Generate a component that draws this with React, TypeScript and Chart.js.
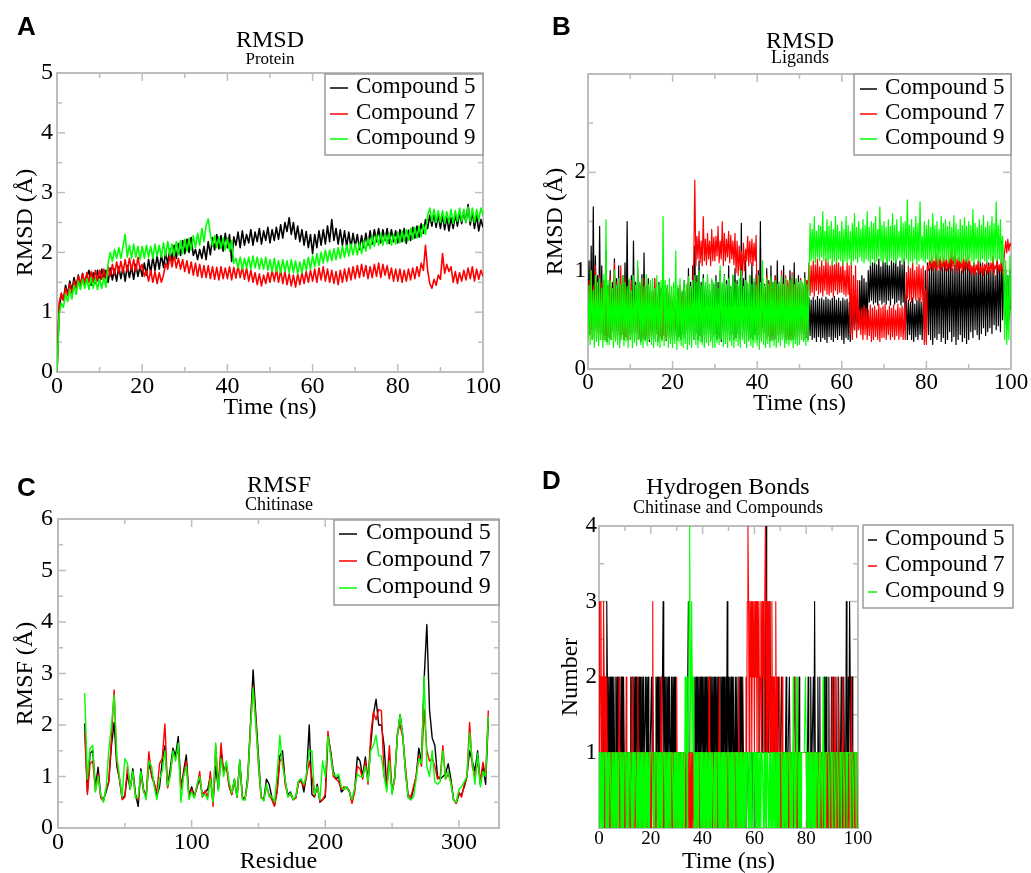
import React, { useEffect, useRef } from 'react';
import { Chart, registerables } from 'chart.js';

Chart.register(...registerables);

const PAGE_W = 1031;
const PAGE_H = 873;
const SERIF = "'Liberation Serif', 'Times New Roman', serif";
const SANS = "'Liberation Sans', Arial, sans-serif";

const SERIES_LABELS = ['Compound 5', 'Compound 7', 'Compound 9'];
const SERIES_COLORS = ['#000000', '#ff0000', '#00ff00'];

// ---------- Panel A : RMSD Protein (time 0..100 ns, every 0.5 ns) ----------
const A_TIME_STEP = 0.5;
const A_C5 = [
  0, 1.05, 1.30, 1.20, 1.45, 1.30, 1.52, 1.36, 1.58, 1.42,
  1.62, 1.44, 1.65, 1.47, 1.60, 1.70, 1.45, 1.66, 1.48, 1.70,
  1.52, 1.72, 1.55, 1.70, 1.50, 1.74, 1.54, 1.72, 1.52, 1.76,
  1.56, 1.75, 1.52, 1.78, 1.58, 1.76, 1.55, 1.80, 1.60, 1.77,
  1.60, 1.82, 1.62, 1.88, 1.66, 1.92, 1.70, 1.94, 1.72, 1.96,
  1.75, 2.00, 1.80, 2.06, 1.86, 2.12, 1.90, 2.15, 1.95, 2.20,
  1.98, 2.22, 2.00, 2.25, 1.95, 2.05, 1.88, 2.05, 1.90, 2.10,
  1.88, 2.18, 1.96, 2.25, 2.04, 2.30, 2.06, 2.28, 2.02, 2.32,
  2.08, 2.30, 1.85, 2.26, 2.12, 2.34, 2.08, 2.36, 2.12, 2.30,
  2.16, 2.38, 2.12, 2.34, 2.18, 2.40, 2.14, 2.36, 2.20, 2.42,
  2.16, 2.38, 2.20, 2.42, 2.22, 2.46, 2.24, 2.50, 2.35, 2.58,
  2.30, 2.50, 2.22, 2.44, 2.18, 2.38, 2.12, 2.35, 2.08, 2.30,
  1.98, 2.30, 2.08, 2.36, 2.12, 2.38, 2.14, 2.44, 2.18, 2.55,
  2.20, 2.40, 2.14, 2.38, 2.12, 2.36, 2.10, 2.34, 2.08, 2.32,
  2.10, 2.30, 2.05, 2.28, 2.08, 2.32, 2.12, 2.36, 2.14, 2.38,
  2.18, 2.40, 2.16, 2.38, 2.20, 2.40, 2.15, 2.38, 2.18, 2.36,
  2.16, 2.38, 2.18, 2.40, 2.15, 2.37, 2.20, 2.42, 2.24, 2.44,
  2.26, 2.48, 2.32, 2.55, 2.40, 2.62, 2.44, 2.66, 2.42, 2.64,
  2.40, 2.62, 2.38, 2.60, 2.36, 2.58, 2.40, 2.64, 2.44, 2.66,
  2.48, 2.70, 2.50, 2.80, 2.46, 2.68, 2.40, 2.62, 2.36, 2.55,
  2.42,
];
const A_C7 = [
  0, 1.15, 1.32, 1.20, 1.40, 1.28, 1.48, 1.32, 1.52, 1.40,
  1.60, 1.46, 1.64, 1.48, 1.66, 1.50, 1.68, 1.50, 1.70, 1.52,
  1.70, 1.55, 1.72, 1.56, 1.76, 1.60, 1.80, 1.62, 1.84, 1.66,
  1.85, 1.66, 1.88, 1.68, 1.90, 1.70, 1.88, 1.68, 1.92, 1.72,
  1.80, 1.60, 1.70, 1.52, 1.70, 1.50, 1.68, 1.48, 1.66, 1.50,
  1.62, 1.82, 1.72, 1.95, 1.76, 1.96, 1.74, 1.90, 1.72, 1.88,
  1.68, 1.86, 1.65, 1.84, 1.62, 1.82, 1.60, 1.80, 1.58, 1.78,
  1.58, 1.78, 1.56, 1.76, 1.55, 1.75, 1.54, 1.76, 1.56, 1.74,
  1.56, 1.76, 1.54, 1.75, 1.57, 1.78, 1.58, 1.76, 1.55, 1.74,
  1.52, 1.70, 1.50, 1.66, 1.46, 1.64, 1.44, 1.62, 1.48, 1.66,
  1.50, 1.70, 1.52, 1.72, 1.50, 1.70, 1.48, 1.68, 1.46, 1.64,
  1.44, 1.62, 1.42, 1.64, 1.46, 1.66, 1.48, 1.68, 1.50, 1.70,
  1.52, 1.72, 1.50, 1.74, 1.54, 1.76, 1.52, 1.72, 1.50, 1.70,
  1.48, 1.68, 1.46, 1.70, 1.50, 1.72, 1.52, 1.74, 1.54, 1.76,
  1.56, 1.78, 1.58, 1.80, 1.60, 1.78, 1.56, 1.76, 1.58, 1.80,
  1.60, 1.82, 1.58, 1.80, 1.62, 1.78, 1.56, 1.74, 1.52, 1.72,
  1.52, 1.72, 1.50, 1.70, 1.52, 1.72, 1.54, 1.74, 1.56, 1.76,
  1.60, 1.82, 1.70, 2.12, 1.70, 1.48, 1.40, 1.55, 1.45, 1.62,
  1.55, 1.98, 1.65, 1.80, 1.68, 1.76, 1.50, 1.68, 1.48, 1.66,
  1.52, 1.70, 1.54, 1.74, 1.56, 1.76, 1.52, 1.72, 1.55, 1.70,
  1.60,
];
const A_C9 = [
  0, 0.95, 1.15, 1.08, 1.30, 1.18, 1.38, 1.22, 1.45, 1.30,
  1.52, 1.38, 1.55, 1.40, 1.56, 1.38, 1.58, 1.40, 1.56, 1.38,
  1.56, 1.40, 1.58, 1.42, 1.82, 2.00, 1.85, 2.05, 1.90, 2.08,
  1.90, 2.10, 2.30, 1.92, 2.12, 1.90, 2.14, 1.92, 2.10, 1.88,
  2.10, 1.90, 2.12, 1.92, 2.10, 1.90, 2.14, 1.94, 2.12, 1.92,
  2.16, 1.94, 2.18, 1.96, 2.14, 1.94, 2.18, 1.96, 2.20, 1.98,
  2.22, 2.02, 2.24, 2.04, 2.28, 2.08, 2.32, 2.12, 2.40, 2.18,
  2.45, 2.56, 2.30, 2.10, 2.28, 2.08, 2.26, 2.06, 2.24, 2.04,
  2.24, 2.02, 2.20, 1.82, 1.90, 1.74, 1.92, 1.72, 1.90, 1.74,
  1.92, 1.72, 1.94, 1.74, 1.92, 1.72, 1.90, 1.72, 1.92, 1.70,
  1.88, 1.68, 1.90, 1.68, 1.86, 1.66, 1.88, 1.68, 1.86, 1.66,
  1.88, 1.66, 1.86, 1.64, 1.84, 1.66, 1.88, 1.70, 1.92, 1.72,
  1.94, 1.76, 1.98, 1.78, 2.00, 1.82, 2.04, 1.84, 2.04, 1.86,
  2.06, 1.88, 2.08, 1.90, 2.10, 1.92, 2.12, 1.94, 2.14, 1.96,
  2.14, 1.96, 2.16, 1.98, 2.20, 2.02, 2.24, 2.06, 2.28, 2.10,
  2.30, 2.12, 2.32, 2.12, 2.30, 2.14, 2.32, 2.12, 2.30, 2.14,
  2.34, 2.16, 2.36, 2.18, 2.38, 2.20, 2.40, 2.22, 2.42, 2.24,
  2.44, 2.26, 2.46, 2.30, 2.62, 2.74, 2.52, 2.72, 2.50, 2.70,
  2.50, 2.70, 2.48, 2.68, 2.50, 2.72, 2.48, 2.70, 2.52, 2.74,
  2.52, 2.72, 2.50, 2.76, 2.52, 2.74, 2.50, 2.72, 2.54, 2.74,
  2.62,
];

// ---------- Panel B : RMSD Ligands (time 0..100 ns, every 0.25 ns) ----------
const B_TIME_STEP = 0.25;
const B_C5 = [
  0.45, 1.10, 0.35, 1.25, 0.40, 1.65, 0.32, 1.15, 0.38, 0.95, 0.30, 1.45, 0.36, 1.05, 0.30, 0.90, 0.34, 1.20, 0.28, 0.85,
  0.32, 1.00, 0.30, 0.88, 0.38, 1.12, 0.30, 0.92, 0.34, 1.05, 0.28, 0.86, 0.35, 0.95, 0.30, 1.08, 0.33, 1.50, 0.30, 0.90,
  0.35, 0.95, 0.30, 1.30, 0.36, 0.88, 0.30, 1.02, 0.32, 0.85, 0.28, 0.96, 0.34, 1.18, 0.30, 0.84, 0.33, 0.92, 0.28, 0.86,
  0.32, 0.80, 0.30, 0.92, 0.35, 0.78, 0.28, 0.88, 0.33, 0.82, 0.30, 0.95, 0.34, 0.76, 0.29, 0.85, 0.32, 0.80, 0.30, 0.72,
  0.30, 0.75, 0.34, 0.70, 0.30, 0.82, 0.33, 0.68, 0.30, 0.78, 0.35, 0.90, 0.31, 0.80, 0.36, 1.02, 0.30, 0.88, 0.34, 1.05,
  0.30, 1.25, 0.36, 0.95, 0.30, 1.10, 0.34, 0.88, 0.28, 0.96, 0.33, 0.85, 0.30, 0.92, 0.35, 0.80, 0.30, 0.90, 0.33, 0.86,
  0.35, 0.95, 0.30, 0.88, 0.32, 1.00, 0.28, 0.86, 0.34, 0.96, 0.30, 0.90, 0.33, 1.05, 0.30, 0.84, 0.35, 0.95, 0.30, 1.02,
  0.32, 0.90, 0.36, 0.84, 0.30, 1.48, 0.33, 0.92, 0.28, 1.10, 0.34, 0.86, 0.30, 0.95, 0.32, 1.08, 0.30, 0.88, 0.35, 0.96,
  0.30, 1.00, 0.34, 1.50, 0.30, 0.92, 0.35, 0.86, 0.30, 1.02, 0.33, 0.90, 0.29, 1.05, 0.34, 0.88, 0.30, 0.95, 0.32, 1.10,
  0.34, 0.88, 0.30, 0.96, 0.32, 1.05, 0.28, 0.90, 0.33, 0.86, 0.30, 1.00, 0.34, 0.92, 0.30, 1.08, 0.33, 0.90, 0.30, 0.95,
  0.30, 0.92, 0.35, 0.86, 0.30, 0.98, 0.32, 0.90, 0.30, 0.72, 0.34, 0.70, 0.30, 0.73, 0.32, 0.70, 0.28, 0.74, 0.33, 0.71,
  0.28, 0.72, 0.32, 0.70, 0.30, 0.73, 0.27, 0.71, 0.33, 0.70, 0.30, 0.72, 0.28, 0.74, 0.32, 0.70, 0.30, 0.72, 0.34, 0.69,
  0.30, 0.72, 0.26, 0.70, 0.32, 0.71, 0.30, 0.68, 0.28, 0.72, 0.35, 0.66, 0.40, 0.70, 0.38, 0.65, 0.42, 0.90, 0.45, 0.95,
  0.40, 0.92, 0.45, 0.88, 0.42, 1.00, 0.68, 1.05, 0.70, 1.08, 0.66, 1.10, 0.68, 1.06, 0.65, 1.12, 0.70, 1.04, 0.66, 1.10,
  0.68, 1.08, 0.66, 1.12, 0.70, 1.05, 0.65, 1.10, 0.72, 1.08, 0.66, 1.12, 0.68, 1.04, 0.70, 1.10, 0.65, 1.06, 0.68, 1.12,
  0.40, 0.75, 0.30, 0.70, 0.35, 0.68, 0.30, 0.72, 0.28, 0.66, 0.33, 0.70, 0.30, 0.72, 0.35, 0.68, 0.30, 0.70, 0.40, 1.00,
  0.28, 1.08, 0.35, 1.02, 0.30, 1.10, 0.25, 1.05, 0.32, 1.08, 0.30, 1.00, 0.36, 1.10, 0.28, 1.04, 0.32, 1.08, 0.26, 1.02,
  0.30, 1.06, 0.38, 1.10, 0.28, 1.02, 0.33, 1.08, 0.25, 1.04, 0.30, 1.10, 0.35, 1.00, 0.28, 1.08, 0.32, 1.05, 0.26, 1.10,
  0.30, 1.06, 0.38, 1.00, 0.32, 1.08, 0.40, 0.98, 0.35, 1.05, 0.30, 1.10, 0.36, 1.02, 0.42, 1.06, 0.34, 1.00, 0.38, 1.08,
  0.42, 1.00, 0.36, 1.05, 0.45, 0.95, 0.40, 1.10, 0.44, 1.02, 0.38, 1.30, 0.50, 1.05, 0.45, 1.00, 0.40, 0.95, 0.50, 1.00,
  0.60,
];
const B_C7 = [
  0.55, 0.90, 0.35, 1.00, 0.30, 0.85, 0.38, 1.05, 0.32, 0.80, 0.35, 0.95, 0.30, 0.88, 0.36, 0.82, 0.30, 0.92, 0.34, 0.85,
  0.35, 0.95, 0.30, 0.78, 0.36, 1.08, 0.30, 0.88, 0.34, 0.82, 0.30, 1.05, 0.35, 0.86, 0.30, 0.92, 0.33, 0.80, 0.30, 0.88,
  0.30, 0.90, 0.35, 0.75, 0.31, 0.85, 0.37, 0.78, 0.30, 0.88, 0.34, 0.80, 0.30, 0.92, 0.35, 0.76, 0.30, 0.85, 0.33, 0.78,
  0.34, 0.80, 0.30, 0.92, 0.35, 0.72, 0.30, 0.80, 0.33, 0.75, 0.30, 0.84, 0.35, 0.78, 0.30, 0.82, 0.34, 0.76, 0.30, 0.80,
  0.45, 0.70, 0.38, 0.65, 0.42, 0.72, 0.40, 0.85, 0.48, 0.75, 0.45, 0.80, 0.40, 0.72, 0.46, 0.88, 0.42, 0.76, 0.48, 0.82,
  1.10, 1.92, 1.05, 1.35, 1.12, 1.40, 1.08, 1.30, 1.05, 1.55, 1.10, 1.32, 1.06, 1.38, 1.12, 1.30, 1.05, 1.42, 1.10, 1.34,
  1.10, 1.35, 1.15, 1.45, 1.08, 1.30, 1.12, 1.50, 1.05, 1.38, 1.10, 1.32, 1.14, 1.40, 1.08, 1.36, 1.12, 1.30, 1.06, 1.38,
  0.98, 1.30, 0.95, 1.25, 1.00, 1.20, 0.96, 1.28, 1.00, 1.22, 1.10, 1.35, 1.05, 1.30, 1.08, 1.32, 1.05, 1.28, 1.10, 1.36,
  0.40, 0.95, 0.35, 0.85, 0.32, 0.92, 0.38, 0.80, 0.30, 0.95, 0.35, 0.88, 0.32, 0.90, 0.30, 0.82, 0.36, 0.94, 0.30, 0.86,
  0.35, 0.88, 0.30, 1.00, 0.36, 0.85, 0.32, 0.95, 0.30, 0.90, 0.34, 0.86, 0.30, 0.98, 0.35, 0.84, 0.30, 0.92, 0.33, 0.88,
  0.34, 0.92, 0.30, 0.85, 0.35, 0.78, 0.32, 0.90, 0.80, 1.08, 0.75, 1.05, 0.78, 1.10, 0.74, 1.06, 0.80, 1.12, 0.76, 1.04,
  0.78, 1.10, 0.74, 1.05, 0.80, 1.12, 0.76, 1.08, 0.75, 1.05, 0.78, 1.10, 0.74, 1.06, 0.80, 1.12, 0.76, 1.08, 0.78, 1.04,
  0.78, 1.10, 0.76, 1.00, 0.74, 1.08, 0.76, 1.05, 0.35, 1.10, 0.30, 0.95, 0.40, 1.05, 0.32, 0.90, 0.40, 0.60, 0.35, 0.62,
  0.30, 0.65, 0.35, 0.62, 0.30, 0.60, 0.34, 0.65, 0.28, 0.62, 0.30, 0.64, 0.33, 0.60, 0.30, 0.66, 0.28, 0.62, 0.32, 0.64,
  0.32, 0.66, 0.30, 0.60, 0.35, 0.64, 0.30, 0.62, 0.33, 0.65, 0.30, 0.60, 0.34, 0.66, 0.30, 0.62, 0.33, 0.64, 0.30, 0.62,
  0.30, 0.98, 0.72, 1.05, 0.70, 1.02, 0.68, 1.08, 0.72, 1.00, 0.70, 1.04, 0.72, 1.06, 0.68, 1.02, 0.70, 1.05, 0.25, 0.80,
  0.25, 1.05, 1.00, 1.12, 1.02, 1.15, 1.00, 1.10, 1.03, 1.18, 1.00, 1.12, 1.02, 1.14, 1.00, 1.10, 1.04, 1.16, 1.00, 1.12,
  1.00, 1.12, 1.02, 1.25, 1.00, 1.15, 1.04, 1.20, 0.98, 1.12, 1.00, 1.14, 1.02, 1.10, 0.98, 1.16, 1.00, 1.12, 1.02, 1.18,
  1.00, 1.10, 0.96, 1.05, 0.98, 1.08, 0.95, 1.06, 1.00, 1.10, 0.96, 1.04, 0.98, 1.08, 0.95, 1.06, 1.00, 1.10, 0.97, 1.05,
  0.98, 1.08, 1.00, 1.15, 0.96, 1.05, 1.02, 1.12, 0.98, 1.06, 1.00, 1.10, 0.96, 1.04, 1.20, 1.30, 1.18, 1.32, 1.20, 1.28,
  1.25,
];
const B_C9 = [
  0.30, 0.85, 0.25, 1.00, 0.30, 0.80, 0.22, 0.95, 0.28, 0.88, 0.24, 0.92, 0.30, 0.82, 0.22, 0.96, 0.28, 1.52, 0.25, 0.90,
  0.25, 0.90, 0.30, 0.82, 0.22, 1.00, 0.28, 0.85, 0.25, 0.92, 0.22, 0.86, 0.30, 0.95, 0.24, 0.88, 0.28, 0.84, 0.22, 0.92,
  0.30, 0.80, 0.22, 0.95, 0.27, 0.85, 0.24, 1.10, 0.30, 0.88, 0.25, 0.92, 0.22, 0.84, 0.28, 0.96, 0.24, 0.86, 0.30, 0.90,
  0.25, 0.92, 0.22, 0.82, 0.28, 0.95, 0.24, 0.86, 0.22, 0.90, 0.28, 1.55, 0.24, 0.90, 0.30, 0.85, 0.22, 0.92, 0.26, 0.84,
  0.22, 0.88, 0.26, 1.20, 0.20, 0.85, 0.28, 0.92, 0.24, 0.80, 0.22, 0.90, 0.26, 0.86, 0.20, 0.94, 0.25, 0.84, 0.22, 0.90,
  0.30, 0.95, 0.25, 0.88, 0.22, 1.00, 0.28, 0.85, 0.25, 0.92, 0.22, 0.88, 0.27, 0.96, 0.24, 0.86, 0.28, 0.92, 0.22, 0.88,
  0.22, 0.90, 0.27, 0.82, 0.25, 1.05, 0.30, 0.88, 0.23, 0.95, 0.26, 0.86, 0.22, 0.92, 0.28, 0.84, 0.24, 0.96, 0.22, 0.88,
  0.28, 0.86, 0.24, 0.92, 0.22, 1.00, 0.30, 0.84, 0.26, 0.90, 0.22, 0.88, 0.28, 0.95, 0.24, 0.86, 0.22, 0.92, 0.27, 0.85,
  0.24, 0.95, 0.20, 0.88, 0.28, 1.10, 0.25, 0.85, 0.22, 0.92, 0.26, 0.86, 0.22, 0.94, 0.28, 0.88, 0.24, 0.90, 0.22, 0.86,
  0.27, 0.88, 0.24, 0.95, 0.30, 0.86, 0.22, 0.92, 0.26, 0.85, 0.24, 0.90, 0.28, 0.94, 0.22, 0.86, 0.26, 0.92, 0.24, 0.88,
  0.25, 0.90, 0.30, 0.88, 0.28, 0.92, 0.24, 0.86, 0.28, 0.90, 1.48, 1.10, 1.42, 1.12, 1.55, 1.08, 1.40, 1.14, 1.46, 1.10,
  1.45, 1.14, 1.60, 1.10, 1.40, 1.12, 1.52, 1.08, 1.45, 1.12, 1.50, 1.06, 1.42, 1.10, 1.55, 1.08, 1.46, 1.12, 1.40, 1.10,
  1.50, 1.06, 1.42, 1.10, 1.55, 1.08, 1.46, 1.12, 1.40, 1.06, 1.48, 1.10, 1.58, 1.12, 1.44, 1.08, 1.50, 1.14, 1.42, 1.10,
  1.52, 1.08, 1.46, 1.12, 1.60, 1.10, 1.44, 1.06, 1.50, 1.12, 1.48, 1.08, 1.55, 1.10, 1.42, 1.14, 1.65, 1.10, 1.46, 1.08,
  1.50, 1.12, 1.44, 1.06, 1.52, 1.10, 1.45, 1.12, 1.58, 1.10, 1.46, 1.08, 1.52, 1.12, 1.40, 1.14, 1.55, 1.08, 1.48, 1.10,
  1.50, 1.12, 1.72, 1.06, 1.46, 1.10, 1.52, 1.08, 1.44, 1.12, 1.55, 1.06, 1.48, 1.10, 1.70, 1.12, 1.35, 1.10, 1.50, 1.08,
  1.46, 1.12, 1.52, 1.10, 1.44, 1.08, 1.58, 1.12, 1.46, 1.10, 1.50, 1.06, 1.42, 1.12, 1.55, 1.08, 1.48, 1.10, 1.52, 1.12,
  1.45, 1.08, 1.50, 1.12, 1.44, 1.10, 1.56, 1.06, 1.48, 1.12, 1.42, 1.10, 1.52, 1.08, 1.46, 1.12, 1.54, 1.10, 1.45, 1.08,
  1.50, 1.12, 1.46, 1.10, 1.62, 1.06, 1.48, 1.12, 1.44, 1.10, 1.52, 1.08, 1.46, 1.12, 1.56, 1.10, 1.44, 1.08, 1.50, 1.12,
  1.46, 1.10, 1.55, 1.08, 1.48, 1.12, 1.70, 1.10, 1.46, 1.12, 1.52, 1.08, 1.35, 1.10, 0.30, 1.10, 0.25, 0.95, 0.30, 1.15,
  0.55,
];

// ---------- Panel C : RMSF Chitinase (residues 20..322, every 2 residues) ----------
const C_RES_START = 20;
const C_RES_STEP = 2;
const C_C5 = [
  2.03, 0.70, 1.45, 1.50, 0.80, 1.18, 0.62, 0.55, 0.70, 0.90,
  1.60, 2.05, 1.20, 0.95, 0.58, 0.62, 1.05, 0.75, 1.15, 0.65,
  0.42, 1.15, 0.75, 0.60, 1.25, 1.05, 0.88, 0.62, 0.80, 1.30,
  1.60, 0.80, 1.15, 1.55, 1.40, 1.78, 0.78, 1.10, 1.42, 0.62,
  0.80, 0.62, 0.80, 0.95, 0.65, 0.70, 0.75, 1.00, 0.50, 1.20,
  0.75, 1.45, 1.10, 1.25, 0.85, 0.65, 0.95, 0.60, 1.30, 0.60,
  0.55, 1.00, 2.00, 3.07, 2.20, 1.40, 0.60, 0.55, 0.95, 0.85,
  0.60, 0.45, 0.75, 1.40, 1.50, 0.90, 0.65, 0.70, 0.55, 0.60,
  0.90, 0.95, 0.70, 1.05, 2.00, 0.65, 0.60, 0.85, 0.50, 0.55,
  0.60, 1.78, 1.50, 1.10, 0.95, 1.00, 0.70, 0.75, 0.80, 0.72,
  0.50, 0.75, 1.38, 1.30, 1.00, 1.38, 0.90, 1.60, 2.20, 2.50,
  2.00, 2.00, 1.60, 0.80, 1.35, 0.70, 1.00, 1.80, 2.20, 1.80,
  1.10, 0.60, 0.55, 0.75, 1.00, 1.55, 1.30, 2.90, 3.95, 2.30,
  1.75, 1.60, 1.00, 0.95, 1.00, 1.05, 1.25, 0.95, 0.55, 0.48,
  0.65, 0.65, 0.80, 1.00, 1.50, 1.30, 1.10, 1.50, 0.85, 1.20,
  0.85, 2.10,
];
const C_C7 = [
  1.85, 0.65, 1.25, 1.30, 0.72, 1.05, 0.58, 0.52, 0.75, 0.90,
  1.75, 2.68, 1.30, 0.95, 0.55, 0.60, 1.20, 0.78, 1.05, 0.62,
  0.55, 1.05, 0.70, 0.65, 1.48, 1.00, 0.85, 0.70, 1.25, 1.35,
  2.02, 0.78, 1.05, 1.45, 1.35, 1.55, 0.75, 1.05, 1.30, 0.60,
  0.75, 0.60, 0.78, 1.10, 0.60, 0.72, 0.60, 1.10, 0.42, 1.60,
  0.80, 1.65, 1.05, 1.20, 0.80, 0.65, 0.90, 0.60, 1.30, 0.58,
  0.58, 0.90, 1.95, 2.75, 2.10, 1.20, 0.58, 0.55, 0.80, 0.65,
  0.55, 0.42, 0.70, 1.30, 1.35, 0.85, 0.62, 0.65, 0.55, 0.58,
  0.88, 0.90, 0.80, 1.00, 1.30, 1.00, 0.62, 0.80, 0.52, 0.55,
  0.65, 1.88, 1.45, 1.00, 0.95, 0.90, 0.75, 0.80, 0.78, 0.70,
  0.48, 0.70, 1.20, 1.15, 0.95, 1.30, 0.85, 1.80, 2.25, 2.10,
  2.30, 2.28, 1.00, 0.85, 1.60, 0.68, 0.95, 1.85, 2.00, 1.75,
  1.20, 0.65, 0.60, 0.80, 1.00, 1.40, 1.20, 2.30, 1.50, 1.30,
  1.35, 1.20, 0.95, 1.00, 1.60, 0.95, 1.05, 0.90, 0.55, 0.48,
  0.70, 0.60, 0.85, 1.00, 2.05, 1.20, 1.00, 1.30, 0.90, 1.28,
  1.00, 2.28,
];
const C_C9 = [
  2.62, 0.95, 1.55, 1.60, 0.70, 1.00, 0.65, 0.50, 0.78, 1.50,
  2.00, 2.58, 1.40, 1.00, 0.60, 1.35, 1.25, 0.75, 1.10, 0.58,
  0.60, 1.10, 0.72, 0.55, 1.30, 1.20, 0.80, 0.55, 0.95, 1.10,
  1.50, 0.82, 1.00, 1.50, 1.30, 1.65, 0.50, 1.00, 1.20, 0.55,
  0.70, 0.58, 0.85, 1.00, 0.62, 0.65, 0.55, 0.95, 0.50, 1.65,
  0.72, 1.35, 1.00, 1.30, 0.90, 0.68, 0.95, 0.60, 1.33, 0.55,
  0.55, 0.95, 1.90, 2.72, 2.00, 1.30, 0.60, 0.52, 0.85, 0.60,
  0.62, 0.50, 1.05, 1.80, 1.20, 0.95, 0.60, 0.68, 0.55, 0.62,
  0.92, 0.95, 0.85, 1.05, 1.50, 1.50, 0.65, 0.80, 0.55, 1.30,
  1.00, 1.78, 1.40, 1.05, 1.00, 1.05, 0.80, 0.75, 0.80, 0.70,
  0.55, 0.78, 1.05, 1.00, 1.00, 1.20, 0.90, 1.50, 1.60, 1.80,
  1.40, 1.40, 1.00, 0.70, 1.30, 0.65, 1.00, 1.80, 2.20, 1.80,
  1.10, 0.60, 0.55, 0.60, 0.95, 1.35, 1.25, 2.95, 1.20, 1.00,
  1.50, 0.90, 0.85, 0.90, 1.50, 0.95, 1.10, 0.85, 0.55, 0.50,
  0.75, 0.80, 0.90, 1.00, 1.85, 1.30, 0.85, 1.45, 0.80, 1.10,
  1.00, 2.15,
];

// ---------- Panel D : Hydrogen bonds (time 0..100 ns, every 0.25 ns) ----------
const D_TIME_STEP = 0.25;
const D_C5 = [
  1, 1, 1, 1, 1, 1, 1, 1, 2, 0, 2, 1, 3, 2, 1, 2, 0, 2, 1, 2,
  0, 2, 1, 2, 1, 1, 2, 0, 2, 1, 2, 1, 1, 1, 2, 1, 2, 0, 2, 1,
  1, 1, 1, 0, 1, 1, 1, 1, 1, 2, 1, 2, 1, 1, 2, 0, 2, 1, 2, 1,
  2, 1, 2, 1, 2, 0, 2, 1, 2, 1, 1, 1, 2, 1, 2, 1, 2, 0, 1, 1,
  1, 2, 1, 2, 1, 0, 1, 1, 2, 1, 2, 1, 2, 0, 2, 1, 2, 1, 2, 3,
  1, 2, 1, 2, 0, 2, 1, 2, 1, 2, 1, 0, 2, 1, 2, 1, 2, 0, 2, 1,
  1, 1, 1, 1, 0, 1, 1, 1, 1, 1, 0, 1, 1, 1, 1, 1, 1, 1, 3, 1,
  1, 1, 1, 1, 1, 1, 1, 1, 2, 0, 2, 1, 2, 1, 2, 0, 2, 1, 2, 1,
  2, 1, 2, 0, 2, 1, 2, 1, 2, 0, 2, 1, 2, 1, 2, 1, 2, 0, 2, 1,
  2, 1, 2, 0, 2, 1, 1, 1, 2, 1, 2, 0, 2, 1, 2, 1, 2, 1, 3, 1,
  2, 1, 2, 0, 2, 1, 2, 1, 2, 1, 0, 2, 1, 2, 1, 1, 2, 0, 2, 1,
  2, 1, 2, 1, 1, 1, 0, 1, 1, 1, 1, 0, 1, 1, 1, 1, 0, 1, 1, 1,
  1, 0, 1, 1, 1, 1, 1, 2, 1, 1, 1, 1, 2, 1, 1, 1, 1, 1, 4, 1,
  1, 3, 1, 2, 3, 1, 2, 1, 1, 1, 2, 1, 1, 1, 0, 1, 1, 2, 1, 1,
  1, 1, 2, 1, 1, 0, 1, 1, 1, 2, 1, 1, 1, 1, 2, 1, 0, 1, 1, 1,
  1, 1, 2, 1, 1, 1, 0, 1, 1, 2, 1, 1, 1, 1, 1, 1, 1, 1, 1, 1,
  1, 1, 1, 2, 1, 1, 1, 2, 1, 1, 1, 2, 1, 3, 1, 1, 1, 1, 2, 1,
  1, 2, 0, 1, 1, 1, 0, 1, 2, 1, 0, 2, 1, 0, 1, 2, 0, 1, 0, 2,
  1, 0, 2, 1, 0, 1, 2, 0, 1, 0, 2, 1, 0, 1, 2, 1, 0, 1, 2, 1,
  0, 1, 3, 1, 0, 2, 1, 3, 2, 0, 1, 2, 1, 0, 1, 1, 0, 1, 1, 1,
  1,
];
const D_C7 = [
  3, 0, 2, 3, 1, 2, 0, 3, 2, 0, 2, 1, 2, 0, 1, 1, 0, 1, 0, 1,
  1, 0, 1, 0, 1, 1, 0, 1, 0, 1, 0, 2, 0, 1, 0, 1, 0, 1, 1, 0,
  1, 0, 2, 1, 0, 1, 0, 1, 0, 1, 0, 2, 1, 0, 1, 0, 1, 0, 1, 0,
  2, 0, 1, 0, 1, 0, 1, 0, 1, 0, 1, 0, 1, 0, 1, 0, 1, 0, 1, 0,
  1, 0, 1, 3, 0, 1, 0, 1, 0, 1, 0, 1, 0, 1, 0, 1, 2, 0, 1, 0,
  1, 0, 1, 0, 1, 0, 1, 0, 1, 0, 1, 0, 1, 0, 1, 0, 1, 0, 1, 0,
  2, 0, 1, 0, 1, 0, 1, 0, 1, 0, 1, 0, 1, 0, 1, 0, 1, 0, 1, 0,
  1, 0, 1, 0, 1, 0, 1, 0, 1, 0, 1, 0, 1, 0, 1, 0, 1, 0, 1, 0,
  1, 0, 1, 0, 1, 0, 1, 0, 1, 0, 2, 0, 1, 0, 1, 0, 1, 0, 1, 0,
  0, 1, 0, 1, 0, 1, 2, 0, 1, 0, 1, 0, 1, 0, 1, 0, 1, 0, 1, 0,
  0, 1, 0, 1, 0, 1, 0, 1, 0, 1, 0, 1, 0, 1, 0, 1, 2, 0, 1, 0,
  1, 0, 1, 0, 1, 0, 1, 2, 1, 3, 4, 3, 1, 3, 2, 3, 1, 3, 2, 3,
  1, 3, 2, 3, 1, 3, 2, 3, 1, 2, 3, 1, 3, 2, 3, 1, 3, 4, 3, 1,
  3, 1, 2, 3, 1, 2, 1, 3, 1, 2, 1, 2, 1, 3, 1, 2, 0, 1, 0, 2,
  0, 1, 0, 2, 0, 1, 0, 1, 0, 1, 0, 1, 0, 1, 0, 1, 0, 1, 0, 1,
  0, 1, 0, 1, 2, 0, 1, 0, 1, 0, 1, 0, 1, 1, 1, 1, 1, 1, 1, 1,
  1, 0, 1, 0, 1, 0, 1, 0, 1, 0, 1, 0, 1, 0, 1, 0, 1, 0, 1, 0,
  1, 0, 1, 0, 1, 0, 1, 0, 1, 0, 1, 0, 1, 0, 1, 0, 1, 0, 1, 0,
  2, 0, 1, 0, 2, 1, 0, 1, 0, 2, 1, 0, 1, 0, 1, 0, 2, 1, 0, 1,
  0, 1, 0, 1, 0, 1, 0, 1, 0, 1, 2, 0, 1, 0, 1, 0, 1, 0, 1, 0,
  0,
];
const D_C9 = [
  1, 0, 1, 0, 1, 0, 1, 0, 1, 1, 1, 0, 1, 0, 1, 0, 1, 1, 1, 0,
  1, 1, 0, 1, 0, 1, 0, 1, 0, 1, 0, 1, 1, 1, 0, 1, 0, 1, 0, 1,
  1, 1, 0, 1, 0, 1, 0, 1, 1, 1, 0, 1, 0, 1, 0, 1, 1, 1, 0, 1,
  0, 1, 0, 1, 0, 1, 0, 1, 0, 1, 0, 1, 0, 1, 0, 1, 0, 1, 0, 1,
  1, 1, 1, 1, 0, 1, 0, 1, 1, 1, 0, 1, 0, 1, 0, 1, 0, 1, 0, 1,
  1, 1, 0, 1, 0, 1, 0, 1, 0, 1, 0, 1, 1, 1, 1, 0, 1, 0, 1, 0,
  1, 1, 0, 1, 0, 1, 0, 1, 0, 1, 0, 1, 0, 2, 1, 2, 0, 2, 1, 3,
  4, 2, 1, 3, 2, 1, 2, 0, 1, 0, 1, 0, 1, 0, 1, 1, 1, 0, 1, 0,
  1, 0, 1, 0, 1, 0, 1, 0, 1, 0, 1, 0, 1, 0, 1, 1, 1, 0, 1, 0,
  1, 0, 1, 1, 1, 0, 1, 0, 1, 0, 1, 0, 1, 0, 1, 0, 1, 0, 1, 1,
  1, 0, 1, 0, 1, 0, 1, 0, 1, 0, 1, 1, 1, 0, 1, 0, 1, 0, 1, 0,
  1, 0, 1, 0, 1, 0, 1, 0, 1, 1, 1, 0, 1, 0, 1, 0, 1, 1, 1, 0,
  1, 1, 0, 1, 0, 1, 0, 1, 0, 1, 0, 1, 1, 1, 0, 1, 0, 1, 0, 1,
  1, 1, 0, 1, 0, 1, 0, 1, 0, 1, 0, 1, 0, 1, 0, 1, 0, 1, 0, 1,
  1, 1, 1, 0, 1, 0, 1, 0, 1, 0, 1, 0, 1, 1, 1, 0, 1, 0, 1, 0,
  2, 1, 0, 1, 0, 1, 2, 1, 0, 1, 0, 1, 0, 1, 1, 1, 1, 1, 1, 2,
  1, 0, 1, 0, 1, 0, 1, 0, 1, 0, 1, 0, 1, 0, 1, 0, 1, 1, 1, 0,
  1, 0, 1, 1, 1, 0, 2, 1, 0, 1, 0, 1, 1, 1, 1, 1, 0, 1, 1, 1,
  0, 1, 1, 1, 1, 0, 1, 1, 1, 1, 0, 1, 1, 1, 0, 1, 1, 1, 1, 0,
  1, 1, 1, 0, 1, 1, 1, 1, 0, 1, 1, 1, 1, 0, 1, 1, 1, 0, 1, 1,
  1,
];

// ---------- panel layout descriptions ----------
type Legend = { box: [number, number, number, number]; rows: number[]; line: [number, number]; textX: number; font: number };
type PanelCfg = {
  letter: string; letterPos: [number, number];
  title: string; subtitle: string; titleX: number; titleY: number; subY: number; subFont: number;
  plot: { l: number; t: number; r: number; b: number };
  yW: number; xH: number;
  x: { min: number; max: number; major: number; minor: number; font: number; pad: number; title: string; titlePadBottom: number };
  y: { min: number; max: number; major: number; minor: number; font: number; pad: number; title: string; hide: number[] };
  x0: number; dx: number; series: number[][]; lineWidth: number;
  legend: Legend;
};

const PANELS: PanelCfg[] = [
  {
    letter: 'A', letterPos: [17, 28],
    title: 'RMSD', subtitle: 'Protein', titleX: 270, titleY: 41, subY: 60, subFont: 17,
    plot: { l: 57, t: 73, r: 483, b: 372 }, yW: 46, xH: 50,
    x: { min: 0, max: 100, major: 20, minor: 10, font: 24, pad: 0, title: 'Time (ns)', titlePadBottom: 0 },
    y: { min: 0, max: 5, major: 1, minor: 0.5, font: 24, pad: 4, title: 'RMSD (Å)', hide: [] },
    x0: 0, dx: A_TIME_STEP, series: [A_C5, A_C7, A_C9], lineWidth: 1.6,
    legend: { box: [325, 74, 483, 155], rows: [87, 113, 138], line: [330, 348], textX: 356, font: 23 },
  },
  {
    letter: 'B', letterPos: [552, 28],
    title: 'RMSD', subtitle: 'Ligands', titleX: 800, titleY: 42, subY: 58, subFont: 18,
    plot: { l: 588, t: 74, r: 1011, b: 369 }, yW: 47, xH: 49,
    x: { min: 0, max: 100, major: 20, minor: 10, font: 23, pad: 0, title: 'Time (ns)', titlePadBottom: 0 },
    y: { min: 0, max: 3, major: 1, minor: 0.5, font: 23, pad: 2, title: 'RMSD (Å)', hide: [3] },
    x0: 0, dx: B_TIME_STEP, series: [B_C5, B_C7, B_C9], lineWidth: 1.2,
    legend: { box: [854, 74, 1011, 155], rows: [88, 113, 138], line: [860, 877], textX: 885, font: 23 },
  },
  {
    letter: 'C', letterPos: [17, 489],
    title: 'RMSF', subtitle: 'Chitinase', titleX: 279, titleY: 486, subY: 505, subFont: 18,
    plot: { l: 58, t: 519, r: 499, b: 828 }, yW: 47, xH: 45,
    x: { min: 0, max: 330, major: 100, minor: 50, font: 24, pad: 0, title: 'Residue', titlePadBottom: -3 },
    y: { min: 0, max: 6, major: 1, minor: 0.5, font: 24, pad: 5, title: 'RMSF (Å)', hide: [] },
    x0: C_RES_START, dx: C_RES_STEP, series: [C_C5, C_C7, C_C9], lineWidth: 1.4,
    legend: { box: [334, 520, 499, 605], rows: [533, 560, 587], line: [339, 357], textX: 366, font: 24 },
  },
  {
    letter: 'D', letterPos: [542, 482],
    title: 'Hydrogen Bonds', subtitle: 'Chitinase and Compounds', titleX: 728, titleY: 488, subY: 508, subFont: 18,
    plot: { l: 599, t: 526, r: 858, b: 828 }, yW: 43, xH: 45,
    x: { min: 0, max: 100, major: 20, minor: 10, font: 19, pad: 0, title: 'Time (ns)', titlePadBottom: -3 },
    y: { min: 0, max: 4, major: 1, minor: 0.5, font: 23, pad: 2, title: 'Number', hide: [0] },
    x0: 0, dx: D_TIME_STEP, series: [D_C5, D_C7, D_C9], lineWidth: 1.1,
    legend: { box: [863, 525, 1013, 608], rows: [539, 565, 591], line: [868, 877], textX: 885, font: 23 },
  },
];

const FRAME_COLOR = '#bdbdbd';

const gracePlugin = {
  id: 'grace',
  beforeDatasetsDraw(chart: any, _args: any, o: any) {
    const cfg: PanelCfg = o.cfg;
    const ctx = chart.ctx;
    const { left, top, right, bottom } = chart.chartArea;
    const xs = chart.scales.x;
    const ys = chart.scales.y;
    ctx.save();
    ctx.strokeStyle = FRAME_COLOR;
    ctx.lineWidth = 1.5;
    const seg = (x1: number, y1: number, x2: number, y2: number) => {
      ctx.beginPath(); ctx.moveTo(x1, y1); ctx.lineTo(x2, y2); ctx.stroke();
    };
    const isMajor = (v: number, m: number) => Math.abs(v / m - Math.round(v / m)) < 1e-6;
    for (let k = 0; ; k++) {
      const v = cfg.x.min + k * cfg.x.minor;
      if (v > cfg.x.max + 1e-9) break;
      const px = xs.getPixelForValue(v);
      const len = isMajor(v, cfg.x.major) ? 8 : 5;
      seg(px, bottom, px, bottom - len);
      seg(px, top, px, top + len);
    }
    for (let k = 0; ; k++) {
      const v = cfg.y.min + k * cfg.y.minor;
      if (v > cfg.y.max + 1e-9) break;
      const py = ys.getPixelForValue(v);
      const len = isMajor(v, cfg.y.major) ? 8 : 5;
      seg(left, py, left + len, py);
      seg(right, py, right - len, py);
    }
    ctx.lineWidth = 2;
    ctx.strokeRect(left, top, right - left, bottom - top);
    ctx.restore();
  },
  afterDraw(chart: any, _args: any, o: any) {
    const cfg: PanelCfg = o.cfg;
    const ctx = chart.ctx;
    ctx.save();
    ctx.fillStyle = '#000';
    ctx.textBaseline = 'middle';
    ctx.font = `bold 26px ${SANS}`;
    ctx.textAlign = 'left';
    ctx.fillText(cfg.letter, cfg.letterPos[0], cfg.letterPos[1]);
    ctx.textAlign = 'center';
    ctx.font = `24px ${SERIF}`;
    ctx.fillText(cfg.title, cfg.titleX, cfg.titleY);
    ctx.font = `${cfg.subFont}px ${SERIF}`;
    ctx.fillText(cfg.subtitle, cfg.titleX, cfg.subY);
    const lg = cfg.legend;
    const [bx1, by1, bx2, by2] = lg.box;
    ctx.fillStyle = '#ffffff';
    ctx.fillRect(bx1, by1, bx2 - bx1, by2 - by1);
    ctx.strokeStyle = '#9a9a9a';
    ctx.lineWidth = 1.5;
    ctx.strokeRect(bx1, by1, bx2 - bx1, by2 - by1);
    ctx.font = `${lg.font}px ${SERIF}`;
    ctx.textAlign = 'left';
    chart.data.datasets.forEach((ds: any, i: number) => {
      const y = lg.rows[i];
      ctx.strokeStyle = ds.borderColor;
      ctx.lineWidth = 1.5;
      ctx.beginPath();
      ctx.moveTo(lg.line[0], y + 1);
      ctx.lineTo(lg.line[1], y + 1);
      ctx.stroke();
      ctx.fillStyle = '#000';
      ctx.fillText(ds.label, lg.textX, y);
    });
    ctx.restore();
  },
};

function buildConfig(cfg: PanelCfg): any {
  const datasets = cfg.series.map((vals, i) => ({
    label: SERIES_LABELS[i],
    data: vals.map((v, j) => ({ x: cfg.x0 + j * cfg.dx, y: v })),
    borderColor: SERIES_COLORS[i],
    backgroundColor: SERIES_COLORS[i],
    borderWidth: cfg.lineWidth,
    borderJoinStyle: 'round',
    pointRadius: 0,
    pointHoverRadius: 0,
    tension: 0,
    fill: false,
    order: 3 - i,
  }));
  const hideY = cfg.y.hide;
  const xMajor = cfg.x.major;
  return {
    type: 'line',
    data: { datasets },
    options: {
      responsive: false,
      animation: false,
      devicePixelRatio: 1,
      events: [],
      layout: {
        autoPadding: false,
        padding: {
          left: cfg.plot.l - cfg.yW,
          top: cfg.plot.t,
          right: PAGE_W - cfg.plot.r,
          bottom: PAGE_H - cfg.plot.b - cfg.xH,
        },
      },
      plugins: {
        legend: { display: false },
        tooltip: { enabled: false },
        title: { display: false },
        grace: { cfg },
      },
      scales: {
        x: {
          type: 'linear',
          min: cfg.x.min,
          max: cfg.x.max,
          afterFit: (s: any) => { s.height = cfg.xH; },
          grid: { display: false, drawTicks: false },
          border: { display: false },
          ticks: {
            stepSize: xMajor,
            includeBounds: false,
            autoSkip: false,
            maxRotation: 0,
            padding: cfg.x.pad,
            color: '#000',
            font: { family: SERIF, size: cfg.x.font },
            callback: (v: number) => (Math.abs(v / xMajor - Math.round(v / xMajor)) < 1e-6 ? String(v) : ''),
          },
          title: {
            display: true,
            text: cfg.x.title,
            color: '#000',
            font: { family: SERIF, size: 24 },
            padding: { top: 0, bottom: cfg.x.titlePadBottom },
          },
        },
        y: {
          type: 'linear',
          min: cfg.y.min,
          max: cfg.y.max,
          afterFit: (s: any) => { s.width = cfg.yW; },
          grid: { display: false, drawTicks: false },
          border: { display: false },
          ticks: {
            stepSize: cfg.y.major,
            includeBounds: false,
            autoSkip: false,
            padding: cfg.y.pad,
            color: '#000',
            font: { family: SERIF, size: cfg.y.font },
            callback: (v: number) => (hideY.includes(v) ? '' : String(v)),
          },
          title: {
            display: true,
            text: cfg.y.title,
            color: '#000',
            font: { family: SERIF, size: 24 },
            padding: { top: 0, bottom: 0 },
          },
        },
      },
    },
    plugins: [gracePlugin],
  };
}

function Panel({ cfg }: { cfg: PanelCfg }) {
  const ref = useRef<HTMLCanvasElement>(null);
  useEffect(() => {
    const chart = new Chart(ref.current as HTMLCanvasElement, buildConfig(cfg));
    return () => chart.destroy();
  }, [cfg]);
  return (
    <canvas
      ref={ref}
      width={PAGE_W}
      height={PAGE_H}
      style={{ position: 'absolute', left: 0, top: 0, width: PAGE_W, height: PAGE_H }}
    />
  );
}

export default function App() {
  return (
    <div style={{ position: 'absolute', left: 0, top: 0, width: PAGE_W, height: PAGE_H, background: '#ffffff', overflow: 'hidden' }}>
      {PANELS.map((p) => (
        <Panel key={p.letter} cfg={p} />
      ))}
    </div>
  );
}
